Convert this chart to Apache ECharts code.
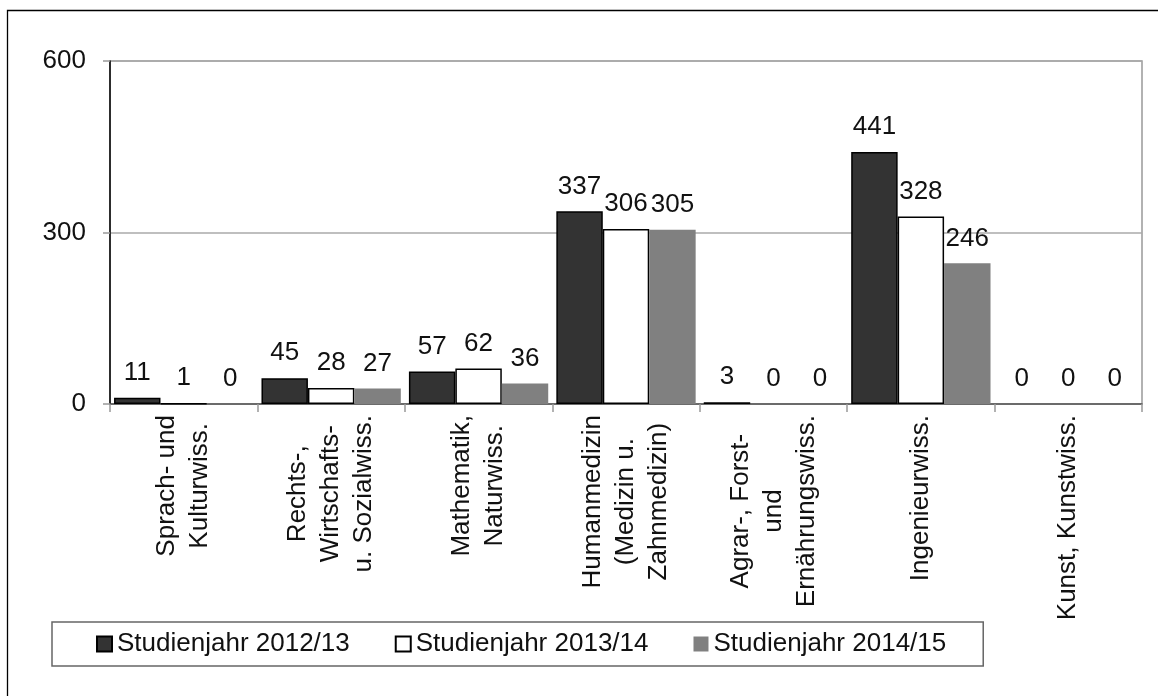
<!DOCTYPE html>
<html>
<head>
<meta charset="utf-8">
<script src="https://cdn.jsdelivr.net/npm/echarts@6/dist/echarts.min.js"></script>
<style>
  html, body { margin: 0; padding: 0; background: #fff; }
  #main { width: 1158px; height: 696px; }
</style>
</head>
<body>
<div id="main"></div>
<script>
// Fächergruppen
const categories = [
  'Sprach- und\nKulturwiss.',
  'Rechts-,\nWirtschafts-\nu. Sozialwiss.',
  'Mathematik,\nNaturwiss.',
  'Humanmedizin\n(Medizin u.\nZahnmedizin)',
  'Agrar-, Forst-\nund\nErnährungswiss.',
  'Ingenieurwiss.',
  'Kunst, Kunstwiss.'
];
const seriesNames = ['Studienjahr 2012/13', 'Studienjahr 2013/14', 'Studienjahr 2014/15'];
const values2012 = [11, 45, 57, 337, 3, 441, 0];
const values2013 = [1, 28, 62, 306, 0, 328, 0];
const values2014 = [0, 27, 36, 305, 0, 246, 0];
const yTicks = [0, 300, 600];

const FONT = "'Liberation Sans', Arial, sans-serif";

const chartDom = document.getElementById('main');
const myChart = echarts.init(chartDom);

function barSeries(name, data, fill, border) {
  return {
    name: name,
    type: 'bar',
    // bars with value 0 get no outline (nothing visible in the original)
    data: data.map(function (v) {
      return v === 0 ? { value: v, itemStyle: { borderWidth: 0 } } : v;
    }),
    barGap: 0,
    barCategoryGap: '5.5%',
    itemStyle: {
      color: fill,
      borderColor: border || fill,
      borderWidth: border ? 1.5 : 0
    },
    label: {
      show: true,
      position: 'top',
      distance: 12,
      color: '#111',
      fontFamily: FONT,
      fontSize: 26
    }
  };
}

let option = {
  backgroundColor: '#fff',
  animation: false,
  graphic: [
    {
      type: 'rect',
      silent: true,
      shape: { x: 7.5, y: 10.5, width: 1300, height: 800 },
      style: { fill: 'none', stroke: '#000', lineWidth: 1.3 }
    }
  ],
  legend: {
    left: 52,
    top: 622,
    icon: 'rect',
    itemWidth: 15,
    itemHeight: 15,
    itemGap: 45,
    padding: [7, 37, 7, 44],
    borderColor: '#666',
    borderWidth: 1.5,
    backgroundColor: '#fff',
    textStyle: {
      color: '#111',
      fontFamily: FONT,
      fontSize: 26,
      lineHeight: 30
    },
    data: seriesNames
  },
  grid: {
    left: 110,
    right: 16,
    top: 61,
    bottom: 292,
    show: true,
    borderColor: '#999',
    borderWidth: 1.5,
    containLabel: false
  },
  xAxis: {
    type: 'category',
    data: categories,
    axisLine: { lineStyle: { color: '#555', width: 1.5 } },
    axisTick: { show: true, interval: 0, length: 8, lineStyle: { color: '#999', width: 1.5 } },
    axisLabel: {
      interval: 0,
      rotate: 90,
      margin: 11,
      color: '#111',
      fontFamily: FONT,
      fontSize: 26,
      formatter: function (v) {
        return v.split('\n').map(function (l) { return '{c|' + l + '}'; }).join('\n');
      },
      rich: {
        c: { align: 'center', fontFamily: FONT, fontSize: 26, lineHeight: 33, color: '#111' }
      }
    }
  },
  yAxis: {
    type: 'value',
    min: yTicks[0],
    max: yTicks[yTicks.length - 1],
    interval: yTicks[1] - yTicks[0],
    axisLine: { show: true, lineStyle: { color: '#000', width: 1.5 } },
    axisTick: { show: true, length: 7, lineStyle: { color: '#999', width: 1.5 } },
    axisLabel: { margin: 24, color: '#111', fontFamily: FONT, fontSize: 26 },
    splitLine: { lineStyle: { color: '#aaa', width: 1.5 } }
  },
  series: [
    barSeries(seriesNames[0], values2012, '#333333', '#000'),
    barSeries(seriesNames[1], values2013, '#ffffff', '#000'),
    barSeries(seriesNames[2], values2014, '#808080', null)
  ]
};
option && myChart.setOption(option);
</script>
</body>
</html>
